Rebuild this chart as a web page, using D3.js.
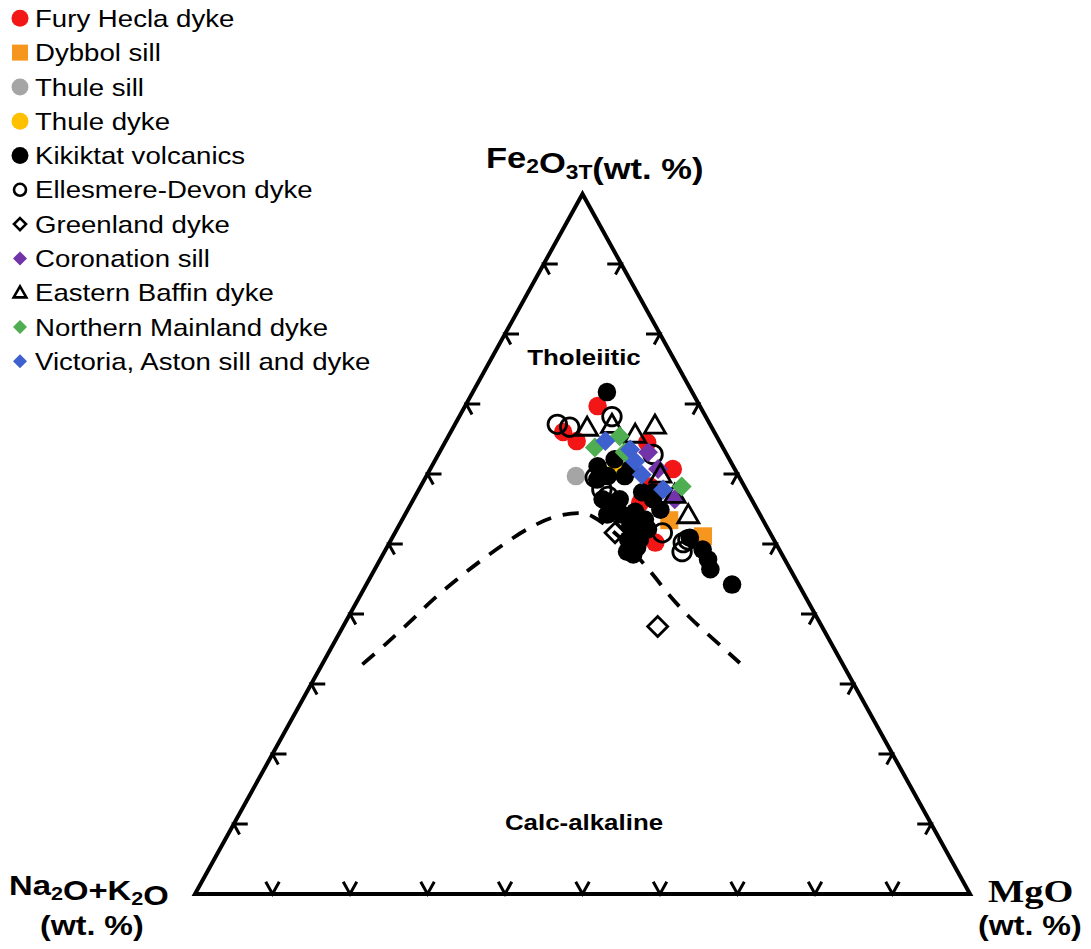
<!DOCTYPE html>
<html><head><meta charset="utf-8">
<script src="https://cdn.jsdelivr.net/npm/d3@7"></script>
<style>
html,body{margin:0;padding:0;background:#fff;}
svg{display:block;}
text{font-family:"Liberation Sans",Arial,sans-serif;}
</style></head>
<body>
<svg id="chart" width="1091" height="949"></svg>
<script>
// ---- Data: compositions [Na2O+K2O, Fe2O3T, MgO] (wt. %, normalised) ----
const furyHecla = [[13.2,69.7,17.1],[19.5,66.0,14.5],[18.4,64.7,16.9],[9.4,64.5,26.1],[8.0,60.7,31.3],[12.2,58.2,29.6],[14.6,55.9,29.5],[15.5,50.2,34.3]];
const dybbolSill = [[8.9,51.1,40.0],[12.1,53.4,34.5]];
const thuleSill = [[21.0,59.7,19.3]];
const thuleDyke = [[15.3,60.7,24.0]];
const kikiktat = [[11.0,71.7,17.3],[17.5,61.1,21.4],[14.8,62.1,23.1],[16.9,59.7,23.4],[14.7,59.7,25.6],[19.2,56.4,24.4],[18.1,55.9,26.0],[17.0,56.4,26.6],[19.7,54.2,26.1],[17.6,52.5,29.9],[16.4,53.1,30.5],[17.3,50.6,32.1],[19.8,48.9,31.3],[18.2,49.5,32.3],[12.5,54.9,32.6],[12.2,57.4,30.4],[10.7,50.9,38.4],[9.9,49.2,40.9],[9.9,47.8,42.3],[10.3,46.4,43.3],[8.6,44.2,47.2],[13.6,57.4,29.0],[15.9,54.6,29.5],[18.2,55.2,26.6],[12.7,56.4,30.9],[13.5,60.7,25.8],[19.2,48.5,32.3],[17.7,51.6,30.7],[18.5,59.2,22.3],
  [17.8,54.2,28.0],[18.8,50.6,30.6],[15.2,53.5,31.3],[15.5,52.1,32.4]];
const ellesmereDevon = [[19.7,67.1,13.2],[18.3,66.7,15.0],[12.1,68.2,19.7],[9.5,62.8,27.7],[18.6,59.5,21.9],[18.6,57.8,23.6],[18.3,56.8,24.9],[13.9,51.6,34.5],[11.9,50.2,37.9],[12.7,48.9,38.4],[11.1,50.6,38.3]];
const greenlandDyke = [[20.0,51.6,28.4],[17.9,53.2,28.9],[21.2,38.2,40.6]];
const coronationSill = [[10.0,63.1,26.9],[9.9,60.7,29.4],[9.9,56.4,33.7]];
const easternBaffin = [[16.2,66.4,17.4],[12.8,66.8,20.4],[7.3,66.7,26.0],[10.1,59.7,30.2],[9.7,56.8,33.5],[9.4,53.9,36.7],[10.5,65.4,24.1]];
const northernMainland = [[16.5,63.8,19.7],[12.5,65.4,22.1],[13.0,63.1,23.9],[8.1,58.2,33.7]];
const victoriaAston = [[14.7,64.7,20.6],[12.1,63.5,24.4],[12.3,61.8,25.9],[12.4,59.9,27.7],[10.7,57.8,31.5]];

// Irvine & Baragar tholeiitic / calc-alkaline boundary [A, F, M]
const boundary = [[62.0,32.8,5.2],[57.7,35.6,6.7],[52.8,38.9,8.3],[48.2,42.1,9.7],[43.8,44.9,11.3],[39.5,47.5,13.0],[35.3,49.9,14.8],[31.1,52.1,16.8],[26.9,53.8,19.3],[23.1,54.4,22.5],[21.7,53.9,24.4],[19.7,50.9,29.4],[18.3,46.4,35.3],[17.4,42.5,40.1],[16.4,39.5,44.1],[15.0,36.6,48.4],[13.2,33.0,53.8]];

const tickValues = [10,20,30,40,50,60,70,80,90];
const seriesNames = ["Fury Hecla dyke","Dybbol sill","Thule sill","Thule dyke","Kikiktat volcanics","Ellesmere-Devon dyke","Greenland dyke","Coronation sill","Eastern Baffin dyke","Northern Mainland dyke","Victoria, Aston sill and dyke"];
const seriesData = [furyHecla,dybbolSill,thuleSill,thuleDyke,kikiktat,ellesmereDevon,greenlandDyke,coronationSill,easternBaffin,northernMainland,victoriaAston];
const seriesShape = ["circle","square","circle","circle","circle","circle","diamond","diamond","triangle","diamond","diamond"];
const seriesFill = ["#f21616","#f7961e","#a5a5a5","#ffc000","#000000","none","none","#7234a8","none","#4fae52","#3f60cf"];
const seriesOpen = [false,false,false,false,false,true,true,false,true,false,false];

// ---- Scales ----
const svg = d3.select("#chart");
const xScale = d3.scaleLinear().domain([0,100]).range([195,970]);
const yScale = d3.scaleLinear().domain([0,100]).range([894,194]);
function proj(d){
  const s = d[0]+d[1]+d[2];
  const F = d[1]/s*100, M = d[2]/s*100;
  return [xScale(M + F/2), yScale(F)];
}
const vL = proj([100,0,0]), vT = proj([0,100,0]), vR = proj([0,0,100]);

// ---- Triangle ----
svg.append("path")
  .attr("d", d3.line()([vL,vT,vR]) + "Z")
  .attr("fill","none").attr("stroke","#000").attr("stroke-width",4).attr("stroke-linejoin","miter");

// ---- Ticks ----
function unit(a,b){const dx=b[0]-a[0],dy=b[1]-a[1],l=Math.hypot(dx,dy);return [dx/l,dy/l];}
const tickG = svg.append("g").attr("stroke","#000").attr("stroke-width",3).attr("fill","none");
const tl = 14;
tickValues.forEach(v=>{
  let p = proj([100-v,0,v]);
  let u1 = unit(vR,vT), u2 = unit(vL,vT);
  tickG.append("path").attr("d", d3.line()([[p[0]+u1[0]*tl,p[1]+u1[1]*tl],p,[p[0]+u2[0]*tl,p[1]+u2[1]*tl]]));
  p = proj([100-v,v,0]);
  u1 = unit(vL,vR); u2 = unit(vT,vR);
  tickG.append("path").attr("d", d3.line()([[p[0]+u1[0]*tl,p[1]+u1[1]*tl],p,[p[0]+u2[0]*(tl-2),p[1]+u2[1]*(tl-2)]]));
  p = proj([0,v,100-v]);
  u1 = unit(vR,vL); u2 = unit(vT,vL);
  tickG.append("path").attr("d", d3.line()([[p[0]+u1[0]*tl,p[1]+u1[1]*tl],p,[p[0]+u2[0]*(tl-2),p[1]+u2[1]*(tl-2)]]));
});

// ---- Boundary curve ----
svg.append("path")
  .attr("d", d3.line().curve(d3.curveCatmullRom.alpha(0.5))(boundary.map(proj)))
  .attr("fill","none").attr("stroke","#000").attr("stroke-width",3.8)
  .attr("stroke-dasharray","16,12");

// ---- Markers ----
function markerPath(shape, big){
  if(shape==="circle") return d3.symbol(d3.symbolCircle, big?Math.PI*86:Math.PI*72)();
  if(shape==="square") return d3.symbol(d3.symbolSquare, big?324:256)();
  if(shape==="triangle") return d3.symbol(d3.symbolTriangle, big?190:95)();
  const h = big?10:7;
  return `M0,${-h}L${h},0L0,${h}L${-h},0Z`;
}
const pts = svg.append("g");
seriesData.forEach((data,i)=>{
  const g = pts.append("g");
  g.selectAll("path").data(data).join("path")
    .attr("d", markerPath(seriesShape[i], true))
    .attr("transform", d=>{const p=proj(d);return `translate(${p[0]},${p[1]})`;})
    .attr("fill", seriesOpen[i] ? "none" : seriesFill[i])
    .attr("stroke", seriesOpen[i] ? "#000" : "none")
    .attr("stroke-width", seriesOpen[i] ? 2.8 : 0);
});

// ---- Legend ----
const leg = svg.append("g");
seriesNames.forEach((name,i)=>{
  const cy = 18.3 + i*34.3;
  let shape = seriesShape[i];
  let d;
  if(seriesOpen[i] && shape==="circle") d = d3.symbol(d3.symbolCircle, Math.PI*36)();
  else if(seriesOpen[i] && shape==="diamond") d = "M0,-6L6,0L0,6L-6,0Z";
  else if(shape==="triangle") d = d3.symbol(d3.symbolTriangle, 70)();
  else d = markerPath(shape,false);
  leg.append("path").attr("d", d)
    .attr("transform", `translate(20,${cy + (shape==="triangle"?1:0)})`)
    .attr("fill", seriesOpen[i] ? "none" : seriesFill[i])
    .attr("stroke", seriesOpen[i] ? "#000" : "none")
    .attr("stroke-width", seriesOpen[i] ? 2.6 : 0);
  leg.append("text")
    .attr("transform", `translate(35,${cy+8.6}) scale(1.15,1)`)
    .attr("font-size", 24).attr("fill","#000").text(name);
});

// ---- Labels ----
function addLabel(x,y,size,sx,parts,family,anchor){
  const t = svg.append("text").attr("transform",`translate(${x},${y}) scale(${sx},1)`)
    .attr("font-size",size).attr("font-weight","bold").attr("text-anchor",anchor||"start");
  if(family) t.style("font-family",family);
  parts.forEach(p=>{
    if(p.sub){
      t.append("tspan").attr("font-size",size*0.66).attr("dy",size*0.18).text(p.t);
      t.append("tspan").attr("font-size",size).attr("dy",-size*0.18).text("");
    } else t.append("tspan").text(p.t);
  });
  return t;
}
addLabel(486,168,30,1.15,[{t:"Fe"},{t:"2",sub:true},{t:"O"},{t:"3T",sub:true},{t:"(wt. %)"}]);
addLabel(9,895,28.5,1.15,[{t:"Na"},{t:"2",sub:true},{t:"O+K"},{t:"2",sub:true},{t:"O"}]);
addLabel(40,935,28,1.15,[{t:"(wt. %)"}]);
addLabel(988,902,32,1.2,[{t:"MgO"}],'"Liberation Serif","Times New Roman",serif');
addLabel(978,935,28,1.15,[{t:"(wt. %)"}]);
addLabel(584,365,22.5,1.15,[{t:"Tholeiitic"}],null,"middle");
addLabel(584,830,22.5,1.15,[{t:"Calc-alkaline"}],null,"middle");
</script>
</body></html>
